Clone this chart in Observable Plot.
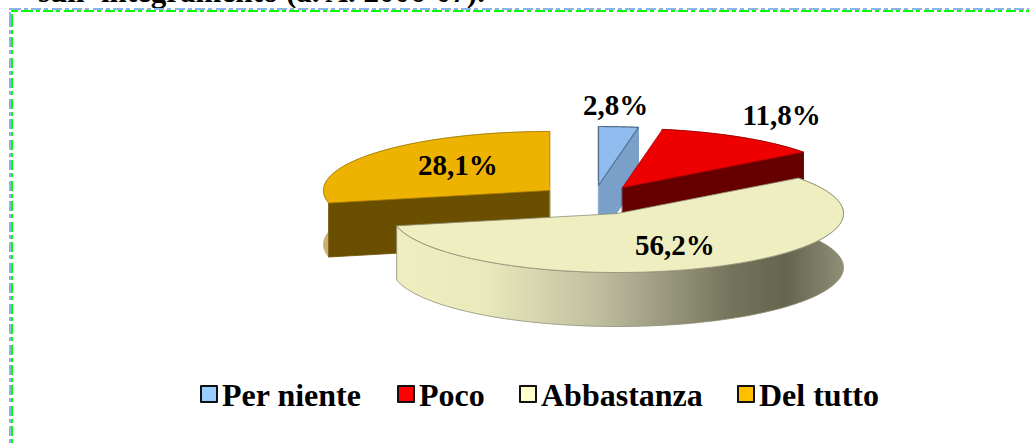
<!DOCTYPE html>
<html>
<head>
<meta charset="utf-8">
<script src="https://cdn.jsdelivr.net/npm/d3@7"></script>
<script src="https://cdn.jsdelivr.net/npm/@observablehq/plot@0.6"></script>
<style>
  html, body { margin: 0; padding: 0; background: #fff; }
  #page { position: relative; width: 1029px; height: 443px; overflow: hidden; font-family: "Liberation Serif", "Times New Roman", serif; font-weight: bold; color: #000; }
  #title { position: relative; height: 8px; overflow: hidden; }
  #title span { position: absolute; left: 38px; top: -24px; font-size: 31px; line-height: 31px; white-space: nowrap; }
  #chart svg { display: block; }
  #legend { position: relative; height: 68px; font-size: 32px; line-height: 32px; }
  #legend .item { position: absolute; top: 4px; white-space: nowrap; }
  #legend i { position: absolute; left: 0; top: 6px; width: 14px; height: 14px; border: 2px solid #111; border-radius: 1px; }
  #legend span { position: absolute; left: 22px; top: 0; }
  .frame { position: absolute; }
</style>
</head>
<body>
<div id="page">
  <div id="title"><span></span></div>
  <div id="chart"></div>
  <div id="legend"></div>
</div>
<script>
// ---- data ----
const categories = ["Per niente", "Poco", "Abbastanza", "Del tutto"];
const shares = [2.8, 11.8, 56.2, 28.1];
const shareLabels = ["2,8%", "11,8%", "56,2%", "28,1%"];
const titleText = "sull' integramento (a. A. 2006-07).";

// ---- colours ----
const topColors = ["#8FBCEE", "#EE0000", "#EEEEC0", "#EEB200"];
const edgeColors = ["#55708F", "#A80000", "#8E8E76", "#A07800"];
const wallColors = ["#7A9FC8", "#660000", "#BDBCA0", "#6A4F00"];
const rimColors = ["#7A9FC8", "#660000", "url(#abbSide)", "#C9B070"];
const legendColors = ["#99CCFF", "#FF0000", "#FFFFCC", "#FFC000"];

// ---- layout (pixels of the drawing) ----
const W = 1029, H = 367;
const pxPerUnit = 226, centreX = 590, centreY = 182;
const tilt = 59 / 226, depth = 54 / 226;
const explodeX = [8, 32, 27, -41].map(d => d / pxPerUnit);
const explodeY = [5, 3, -23, 0].map(d => d / pxPerUnit);
const labelNudgeX = [5, 88, 1, 14];
const labelNudgeY = [-45, -42, 0, -3];

// ---- pie geometry derived from the shares ----
const total = d3.sum(shares);
let running = 0;
const slices = shares.map((v, i) => {
  const a0 = running / total * 2 * Math.PI;
  running += v;
  const a1 = running / total * 2 * Math.PI;
  return { i, a0, a1, mid: (a0 + a1) / 2, ox: explodeX[i], oy: explodeY[i] };
});
const onRim = (s, a, r = 1) => ({ x: s.ox + r * Math.sin(a), y: s.oy + r * tilt * Math.cos(a) });
const drop = p => ({ x: p.x, y: p.y - depth });
const rimAngles = s => d3.range(0, 121).map(k => s.a0 + (s.a1 - s.a0) * k / 120);
const topFace = s => [{ x: s.ox, y: s.oy }, ...rimAngles(s).map(a => onRim(s, a))];
const rimFace = s => { const p = rimAngles(s).map(a => onRim(s, a)); return [...p, ...p.slice().reverse().map(drop)]; };
const wall = (s, a) => { const o = { x: s.ox, y: s.oy }, e = onRim(s, a); return [o, e, drop(e), drop(o)]; };

const face = (pts, fill, stroke, strokeWidth = 0.8) =>
  Plot.line(pts, { x: "x", y: "y", curve: "linear-closed", fill, stroke, strokeWidth, strokeLinejoin: "round" });

const marks = [
  () => {
    const defs = d3.create("svg:defs");
    const g = defs.append("linearGradient").attr("id", "abbSide");
    [[0, "#EEEEC0"], [0.2, "#E9E9BC"], [0.45, "#BFBEA0"], [0.6, "#9A9980"], [0.75, "#74735B"], [0.87, "#65644E"], [1, "#8F8F78"]]
      .forEach(([o, c]) => g.append("stop").attr("offset", o).attr("stop-color", c));
    return defs.node();
  }
];
// back to front: Del tutto, Per niente, Poco, Abbastanza
for (const i of [3, 0, 1, 2]) {
  const s = slices[i];
  marks.push(face(rimFace(s), rimColors[i], i === 2 ? "#8E8E76" : rimColors[i]));
  if (i !== 2) {
    marks.push(face(wall(s, i === 3 ? s.a0 : s.a1), wallColors[i], wallColors[i]));
  }
  marks.push(face(topFace(s), topColors[i], edgeColors[i], i === 0 ? 1.2 : 0.8));
}
slices.forEach((s, i) => marks.push(Plot.text([s], {
  x: d => onRim(d, d.mid, 0.6).x,
  y: d => onRim(d, d.mid, 0.6).y,
  text: () => shareLabels[i],
  dx: labelNudgeX[i],
  dy: labelNudgeY[i],
  fontSize: 29,
  fontWeight: "bold",
  fontFamily: "Liberation Serif",
  fill: "#000"
})));

const chart = Plot.plot({
  width: W,
  height: H,
  margin: 0,
  style: { background: "transparent", overflow: "visible" },
  x: { axis: null, domain: [-centreX / pxPerUnit, (W - centreX) / pxPerUnit], range: [0, W] },
  y: { axis: null, domain: [centreY / pxPerUnit, -(H - centreY) / pxPerUnit], range: [0, H] },
  marks
});
document.getElementById("chart").appendChild(chart);

// ---- title, legend, dashed frame ----
document.querySelector("#title span").textContent = titleText;
const legendLeft = [200, 397, 519, 737];
const legend = document.getElementById("legend");
categories.forEach((c, i) => {
  const it = document.createElement("div");
  it.className = "item";
  it.style.left = legendLeft[i] + "px";
  const sw = document.createElement("i");
  sw.style.background = legendColors[i];
  const tx = document.createElement("span");
  tx.textContent = c;
  it.append(sw, tx);
  legend.appendChild(it);
});
const period = 20.47;
const dash = (col, dir) => `repeating-linear-gradient(${dir}, ${col} 0 10px, transparent 10px 13px, ${col} 13px 17px, transparent 17px ${period}px)`;
const page = document.getElementById("page");
[
  { l: 9, t: 8, w: 1020, h: 2, c: "#8DB4E8", dir: "to right", phase: "2px 0" },
  { l: 11, t: 10, w: 1018, h: 2, c: "#00FF00", dir: "to right", phase: "12px 0" },
  { l: 9, t: 8, w: 2, h: 435, c: "#8DB4E8", dir: "to bottom", phase: "0 9px" },
  { l: 11, t: 10, w: 2, h: 433, c: "#00FF00", dir: "to bottom", phase: "0 7px" }
].forEach(f => {
  const d = document.createElement("div");
  d.className = "frame";
  d.style.cssText = `left:${f.l}px;top:${f.t}px;width:${f.w}px;height:${f.h}px;background-image:${dash(f.c, f.dir)};background-position:${f.phase};`;
  page.appendChild(d);
});
</script>
</body>
</html>
